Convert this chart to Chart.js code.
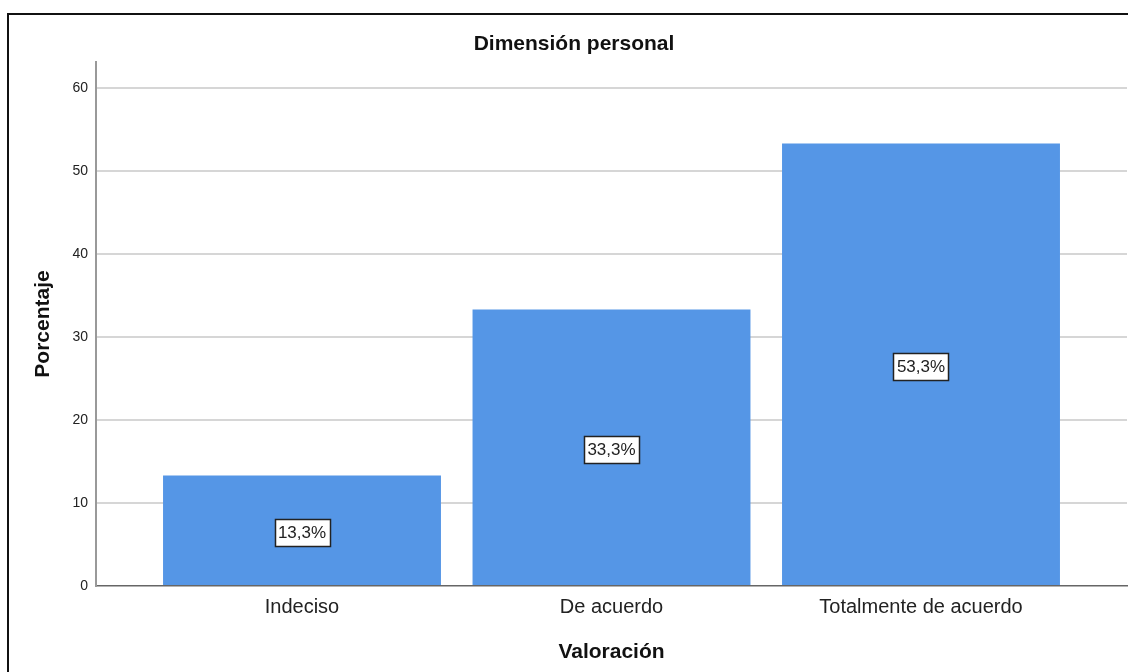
<!DOCTYPE html>
<html>
<head>
<meta charset="utf-8">
<script src="https://cdn.jsdelivr.net/npm/chart.js@4"></script>
<style>
    html, body { margin: 0; padding: 0; background: #fff; overflow: hidden; }
    #frame { position: absolute; left: 7px; top: 13px; width: 1200px; height: 700px; border: 2px solid #111; }
    #wrap { position: absolute; left: 0; top: 0; width: 1128px; height: 672px; }
</style>
</head>
<body>
<div id="frame"></div>
<div id="wrap"><canvas id="chart" width="1128" height="672"></canvas></div>
<script>
// datos
const categories = ['Indeciso', 'De acuerdo', 'Totalmente de acuerdo'];
const percentages = [13.3, 33.3, 53.3];
const yTicks = [0, 10, 20, 30, 40, 50, 60];

const FONT = 'Arial, "Liberation Sans", sans-serif';

// etiquetas con caja blanca en el centro de cada barra
const boxLabels = {
    id: 'boxLabels',
    afterDatasetsDraw(chart) {
        const ctx = chart.ctx;
        const meta = chart.getDatasetMeta(0);
        ctx.save();
        ctx.font = '17px ' + FONT;
        ctx.textAlign = 'center';
        ctx.textBaseline = 'middle';
        meta.data.forEach((bar, i) => {
            const text = percentages[i].toFixed(1).replace('.', ',') + '%';
            const cx = bar.x;
            const cy = (bar.y + bar.base) / 2 + 2;
            const w = Math.round(ctx.measureText(text).width + 7);
            const h = 27;
            const x0 = Math.round(cx - w / 2);
            const y0 = Math.round(cy - h / 2);
            ctx.fillStyle = '#fff';
            ctx.fillRect(x0, y0, w, h);
            ctx.strokeStyle = '#222';
            ctx.lineWidth = 1.5;
            ctx.strokeRect(x0 + 0.5, y0 + 0.5, w, h);
            ctx.fillStyle = '#222';
            ctx.fillText(text, cx, cy + 1);
        });
        ctx.restore();
    }
};

new Chart(document.getElementById('chart').getContext('2d'), {
    type: 'bar',
    data: {
        datasets: [{
            data: percentages.map((v, i) => ({ x: i, y: v })),
            backgroundColor: '#5596e6',
            borderWidth: 0,
            barPercentage: 0.898,
            categoryPercentage: 1
        }]
    },
    options: {
        responsive: false,
        animation: false,
        layout: { padding: { left: 21, right: 1, top: 0, bottom: 0 } },
        plugins: {
            legend: { display: false },
            tooltip: { enabled: false },
            title: {
                display: true,
                text: 'Dimensión personal',
                color: '#111',
                font: { family: FONT, size: 21, weight: 'bold' },
                padding: { top: 31.4, bottom: 5.4 }
            }
        },
        scales: {
            x: {
                type: 'linear',
                offset: false,
                min: -0.6656,
                max: 2.6656,
                afterBuildTicks: scale => { scale.ticks = categories.map((c, i) => ({ value: i })); },
                afterFit: scale => { scale.height = 86; },
                ticks: {
                    callback: v => categories[v],
                    color: '#222',
                    padding: 9,
                    font: { family: FONT, size: 20 }
                },
                grid: { display: false, drawTicks: false, offset: false },
                border: { display: true, color: '#666', width: 1.5 },
                title: {
                    display: true,
                    text: 'Valoración',
                    color: '#111',
                    font: { family: FONT, size: 21, weight: 'bold' },
                    padding: { top: 20.4, bottom: 7.4 }
                }
            },
            y: {
                min: 0,
                max: 63.1,
                afterBuildTicks: scale => { scale.ticks = yTicks.map(v => ({ value: v })); },
                afterFit: scale => { scale.width = 75; },
                ticks: {
                    color: '#222',
                    padding: 8,
                    font: { family: FONT, size: 14 }
                },
                grid: {
                    drawTicks: false,
                    color: ctx => ctx.tick && ctx.tick.value === 0 ? 'rgba(0,0,0,0)' : '#d6d6d6',
                    lineWidth: 2
                },
                border: { display: true, color: '#999', width: 2 },
                title: {
                    display: true,
                    text: 'Porcentaje',
                    color: '#111',
                    font: { family: FONT, size: 21, weight: 'bold' },
                    padding: { top: 9.4, bottom: 0 }
                }
            }
        }
    },
    plugins: [boxLabels]
});
</script>
</body>
</html>
